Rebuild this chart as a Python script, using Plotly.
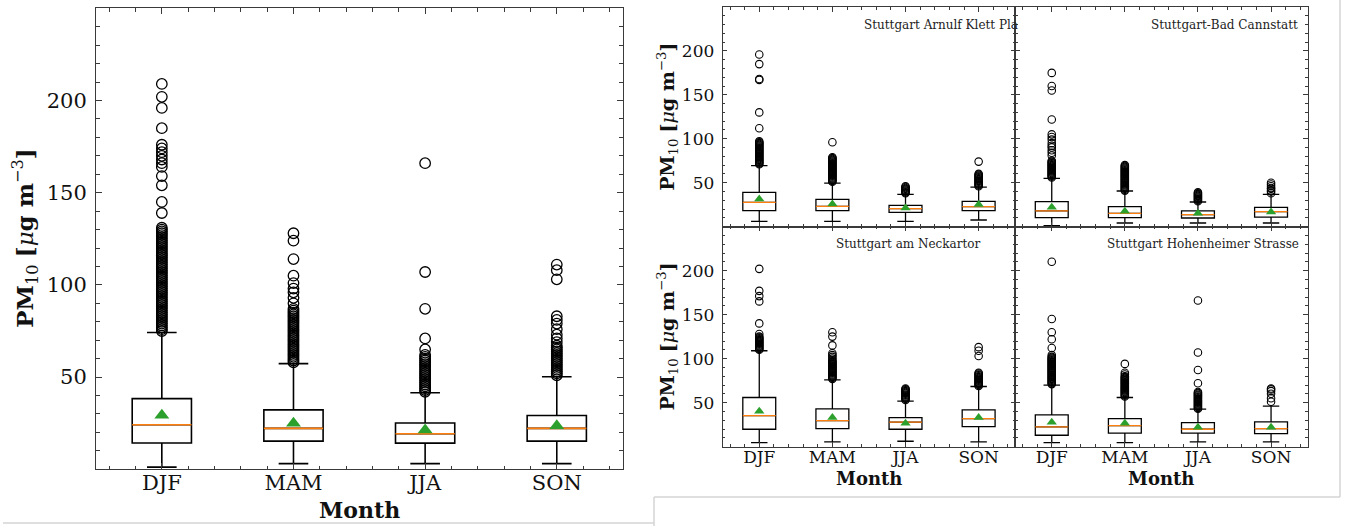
import plotly.graph_objects as go

W, H = 1345, 526
CATS = ["DJF", "MAM", "JJA", "SON"]
POS = [1, 2, 3, 4]

# ---------------- Left: all stations ----------------
all_q1 = [14.3, 15.3, 14.2, 15.3]
all_med = [24.2, 22.2, 19.3, 22.2]
all_q3 = [38.3, 32.2, 25.1, 29.2]
all_lo = [1.2, 3.1, 3.1, 3.1]
all_hi = [74.2, 57.3, 41.5, 50.2]
all_mean = [29.3, 25.0, 21.3, 23.6]
all_out = [
    [75, 76, 77, 78, 79, 80, 81, 82, 83, 84, 85, 86, 87, 88, 89, 90, 91, 92, 93, 94, 95, 96,
     97, 98, 99, 100, 101, 102, 103, 104, 105, 106, 107, 108, 109, 110, 111, 112, 113, 114,
     115, 116, 117, 118, 119, 120, 121, 122, 123, 124, 125, 126, 127, 128, 129, 130, 131,
     139, 145, 154, 159, 164, 166, 168, 170, 172, 174, 176, 185, 196, 202, 209],
    [58, 59, 60, 61, 62, 63, 64, 65, 66, 67, 68, 69, 70, 71, 72, 73, 74, 75, 76, 77, 78, 79,
     80, 81, 82, 83, 84, 85, 86, 87, 90, 93, 96, 98, 101, 105, 114, 124, 128],
    [42, 43, 44, 45, 46, 47, 48, 49, 50, 51, 52, 53, 54, 55, 56, 57, 58, 59, 60, 61, 62,
     65, 71, 87, 107, 166],
    [51, 52, 53, 54, 55, 56, 57, 58, 59, 60, 61, 62, 63, 64, 65, 66, 67, 69, 71, 73, 76,
     79, 81, 83, 103, 108, 111],
]

# ---------------- Stuttgart Arnulf Klett Platz ----------------
akp_q1 = [18.1, 18.1, 16.2, 18.1]
akp_med = [27.6, 23.0, 20.4, 22.7]
akp_q3 = [39.0, 31.0, 24.2, 28.8]
akp_lo = [6.0, 6.0, 6.0, 7.5]
akp_hi = [69.4, 49.6, 36.7, 45.0]
akp_mean = [31.4, 25.7, 21.1, 25.3]
akp_out = [
    [71, 72, 73, 74, 75, 76, 77, 78, 79, 80, 81, 82, 83, 84, 85, 86, 87, 88, 89, 90, 91, 92,
     93, 94, 95, 96, 97, 112, 130, 167, 168, 185, 196],
    [51, 52, 53, 54, 55, 56, 57, 58, 59, 60, 61, 62, 63, 64, 65, 66, 67, 68, 69, 70, 71, 72,
     73, 74, 75, 76, 77, 78, 79, 96],
    [38, 39, 40, 41, 42, 43, 44, 45, 46],
    [46, 47, 48, 49, 50, 51, 52, 53, 54, 55, 56, 57, 58, 59, 60, 74],
]

# ---------------- Stuttgart-Bad Cannstatt ----------------
bc_q1 = [10.2, 10.2, 9.8, 10.9]
bc_med = [17.8, 15.1, 13.6, 17.0]
bc_q3 = [28.4, 22.7, 17.8, 21.9]
bc_lo = [1.1, 4.1, 4.1, 4.1]
bc_hi = [55.0, 40.5, 28.0, 36.7]
bc_mean = [21.9, 17.4, 15.1, 16.6]
bc_out = [
    [56, 57, 58, 59, 60, 61, 62, 63, 64, 65, 66, 67, 68, 69, 70, 71, 72, 73, 74, 75, 81, 84,
     87, 90, 92, 95, 99, 102, 105, 122, 155, 160, 175],
    [41, 42, 43, 44, 45, 46, 47, 48, 49, 50, 51, 52, 53, 54, 55, 56, 57, 58, 59, 60, 61, 62,
     63, 64, 65, 66, 67, 68, 69, 70],
    [29, 30, 31, 32, 33, 34, 35, 36, 37, 38, 39],
    [38, 40, 41, 43, 44, 46, 48, 50],
]

# ---------------- Stuttgart am Neckartor ----------------
nt_q1 = [19.7, 20.5, 19.7, 22.8]
nt_med = [35.3, 29.6, 27.7, 31.9]
nt_q3 = [55.8, 42.9, 33.0, 41.7]
nt_lo = [4.6, 5.3, 6.1, 5.3]
nt_hi = [108.9, 75.9, 51.6, 68.3]
nt_mean = [40.2, 33.0, 26.6, 33.0]
nt_out = [
    [110, 111, 112, 113, 114, 115, 116, 117, 118, 119, 120, 121, 122, 123, 124, 125, 128,
     140, 165, 171, 177, 202],
    [77, 78, 79, 80, 81, 82, 83, 84, 85, 86, 87, 88, 89, 90, 91, 92, 93, 94, 95, 96, 97, 98,
     100, 102, 104, 106, 115, 125, 130],
    [53, 54, 55, 56, 57, 58, 59, 60, 61, 62, 63, 64, 65, 66],
    [69, 70, 71, 72, 73, 74, 75, 76, 77, 78, 79, 80, 81, 82, 83, 84, 103, 109, 113],
]

# ---------------- Stuttgart Hohenheimer Strasse ----------------
hh_q1 = [12.9, 15.2, 15.2, 14.8]
hh_med = [22.4, 23.9, 19.7, 20.5]
hh_q3 = [36.0, 31.9, 27.3, 28.1]
hh_lo = [4.6, 4.6, 5.3, 5.3]
hh_hi = [69.8, 55.8, 42.5, 45.9]
hh_mean = [27.7, 26.6, 22.0, 22.0]
hh_out = [
    [71, 72, 73, 74, 75, 76, 77, 78, 79, 80, 81, 82, 83, 84, 85, 86, 87, 88, 89, 90, 91, 92,
     93, 94, 95, 96, 97, 98, 99, 100, 101, 102, 104, 112, 122, 130, 145, 210],
    [57, 58, 59, 60, 61, 62, 63, 64, 65, 66, 67, 68, 69, 70, 71, 72, 73, 74, 75, 76, 77, 78,
     79, 80, 82, 84, 94],
    [43, 44, 45, 46, 47, 48, 49, 50, 51, 52, 53, 54, 55, 56, 57, 58, 59, 60, 61, 62, 72, 87,
     107, 166],
    [51, 55, 60, 63, 65, 66],
]

station_names = ["Stuttgart Arnulf Klett Pla", "Stuttgart-Bad Cannstatt",
                 "Stuttgart am Neckartor", "Stuttgart Hohenheimer Strasse"]

FONT = "DejaVu Serif"
ORANGE = "#ff7f0e"
GREEN = "#2ca02c"
SPINE = "#3a3a3a"

fig = go.Figure()


def px_x(v):
    return v / W


def px_y(v):
    return 1 - v / H


def add_panel(n, q1, med, q3, lo, hi, mean, outs, lw, msize, mlw, tsize):
    xa = "x" if n == 1 else "x%d" % n
    ya = "y" if n == 1 else "y%d" % n
    fig.add_trace(go.Box(x=POS, q1=q1, median=med, q3=q3, lowerfence=lo, upperfence=hi,
                         width=0.45, whiskerwidth=0.5, fillcolor="white",
                         line=dict(color="black", width=lw), boxpoints=False,
                         xaxis=xa, yaxis=ya, hoverinfo="skip"))
    fig.add_trace(go.Box(x=POS, q1=med, median=med, q3=med, lowerfence=med, upperfence=med,
                         width=0.45, whiskerwidth=0, fillcolor="rgba(0,0,0,0)",
                         line=dict(color=ORANGE, width=lw), boxpoints=False,
                         xaxis=xa, yaxis=ya, hoverinfo="skip"))
    ox, oy = [], []
    for p, vals in zip(POS, outs):
        ox += [p] * len(vals)
        oy += vals
    fig.add_trace(go.Scatter(x=ox, y=oy, mode="markers", xaxis=xa, yaxis=ya,
                             marker=dict(symbol="circle-open", size=msize, color="black",
                                         line=dict(width=mlw, color="black")),
                             hoverinfo="skip"))
    fig.add_trace(go.Scatter(x=POS, y=mean, mode="markers", xaxis=xa, yaxis=ya,
                             marker=dict(symbol="triangle-up", size=tsize, color=GREEN),
                             hoverinfo="skip"))


add_panel(1, all_q1, all_med, all_q3, all_lo, all_hi, all_mean, all_out, 1.6, 10.5, 1.3, 13)
add_panel(2, akp_q1, akp_med, akp_q3, akp_lo, akp_hi, akp_mean, akp_out, 1.3, 7.5, 1.1, 9)
add_panel(3, bc_q1, bc_med, bc_q3, bc_lo, bc_hi, bc_mean, bc_out, 1.3, 7.5, 1.1, 9)
add_panel(4, nt_q1, nt_med, nt_q3, nt_lo, nt_hi, nt_mean, nt_out, 1.3, 7.5, 1.1, 9)
add_panel(5, hh_q1, hh_med, hh_q3, hh_lo, hh_hi, hh_mean, hh_out, 1.3, 7.5, 1.1, 9)


def xax(domain, anchor, show_labels, fsize, tl, mtl, standoff):
    return dict(domain=domain, anchor=anchor, range=[0.5, 4.5], tickmode="array",
                tickvals=POS, ticktext=CATS, showticklabels=show_labels,
                ticks="inside", ticklen=tl, tickwidth=1, tickcolor=SPINE,
                showline=True, linecolor=SPINE, linewidth=1, mirror="allticks",
                showgrid=False, zeroline=False, ticklabelstandoff=standoff,
                tickfont=dict(family=FONT, size=fsize, color="#111"),
                minor=dict(tickmode="linear", tick0=0, dtick=0.2, ticks="inside",
                           ticklen=mtl, tickcolor=SPINE, showgrid=False))


def yax(domain, anchor, show_labels, fsize, tl, mtl):
    return dict(domain=domain, anchor=anchor, range=[0, 250], tickmode="array",
                tickvals=[50, 100, 150, 200], showticklabels=show_labels,
                ticks="inside", ticklen=tl, tickwidth=1, tickcolor=SPINE,
                showline=True, linecolor=SPINE, linewidth=1, mirror="allticks",
                showgrid=False, zeroline=False, ticklabelstandoff=4,
                tickfont=dict(family=FONT, size=fsize, color="#111"),
                minor=dict(tickmode="linear", tick0=0, dtick=10, ticks="inside",
                           ticklen=mtl, tickcolor=SPINE, showgrid=False))


L0, L1 = px_x(96), px_x(622.6)
LB, LT = px_y(469.3), px_y(8.3)
C0, C1, C2 = px_x(722.7), px_x(1015.2), px_x(1307.6)
R0, R1, R2 = px_y(446.6), px_y(226.6), px_y(7)

fig.update_layout(
    width=W, height=H, margin=dict(l=0, r=0, t=0, b=0),
    paper_bgcolor="white", plot_bgcolor="white", showlegend=False, boxmode="overlay",
    font=dict(family=FONT, color="#111"),
    xaxis=xax([L0, L1], "y", True, 21, 6, 3.5, -6),
    yaxis=yax([LB, LT], "x", True, 21, 6, 3.5),
    xaxis2=xax([C0, C1], "y2", False, 17, 4.5, 2.5, -5),
    yaxis2=yax([R1, R2], "x2", True, 17, 4.5, 2.5),
    xaxis3=xax([C1, C2], "y3", False, 17, 4.5, 2.5, -5),
    yaxis3=yax([R1, R2], "x3", False, 17, 4.5, 2.5),
    xaxis4=xax([C0, C1], "y4", True, 17, 4.5, 2.5, -5),
    yaxis4=yax([R0, R1], "x4", True, 17, 4.5, 2.5),
    xaxis5=xax([C1, C2], "y5", True, 17, 4.5, 2.5, -5),
    yaxis5=yax([R0, R1], "x5", False, 17, 4.5, 2.5),
)

ylab = "<b>PM</b><sub>10</sub> <b>[</b><i>μ</i><b>g m</b><sup>−3</sup><b>]</b>"
ann = []
ann.append(dict(x=px_x(25), y=px_y(238.8), xref="paper", yref="paper", text=ylab,
                textangle=-90, showarrow=False, xanchor="center", yanchor="middle",
                font=dict(family=FONT, size=23, color="#111")))
ann.append(dict(x=px_x(359.3), y=px_y(510), xref="paper", yref="paper", text="<b>Month</b>",
                showarrow=False, xanchor="center", yanchor="middle",
                font=dict(family=FONT, size=22, color="#111")))
for yc in [116.8, 336.6]:
    ann.append(dict(x=px_x(668), y=px_y(yc), xref="paper", yref="paper", text=ylab,
                    textangle=-90, showarrow=False, xanchor="center", yanchor="middle",
                    font=dict(family=FONT, size=19, color="#111")))
for xc in [869, 1161.4]:
    ann.append(dict(x=px_x(xc), y=px_y(478), xref="paper", yref="paper", text="<b>Month</b>",
                    showarrow=False, xanchor="center", yanchor="middle",
                    font=dict(family=FONT, size=18, color="#111")))

# station labels
ann.append(dict(x=px_x(862), y=px_y(25), xref="paper", yref="paper", text=station_names[0],
                showarrow=False, xanchor="left", yanchor="middle",
                font=dict(family=FONT, size=12, color="#222")))
ann.append(dict(x=px_x(1300), y=px_y(25), xref="paper", yref="paper", text=station_names[1],
                showarrow=False, xanchor="right", yanchor="middle",
                font=dict(family=FONT, size=12, color="#222")))
ann.append(dict(x=px_x(983), y=px_y(244.3), xref="paper", yref="paper", text=station_names[2],
                showarrow=False, xanchor="right", yanchor="middle",
                font=dict(family=FONT, size=12, color="#222")))
ann.append(dict(x=px_x(1301), y=px_y(244.3), xref="paper", yref="paper", text=station_names[3],
                showarrow=False, xanchor="right", yanchor="middle",
                font=dict(family=FONT, size=12, color="#222")))
fig.update_layout(annotations=ann)

# light page borders around the two images
BORDER = dict(color="#d4d4d4", width=1.5)
shapes = [
    dict(type="line", xref="paper", yref="paper", x0=px_x(3), x1=px_x(654), y0=px_y(523), y1=px_y(523), line=BORDER),
    dict(type="line", xref="paper", yref="paper", x0=px_x(654), x1=px_x(654), y0=px_y(497), y1=px_y(526), line=BORDER),
    dict(type="line", xref="paper", yref="paper", x0=px_x(654), x1=px_x(1340), y0=px_y(497), y1=px_y(497), line=BORDER),
    dict(type="line", xref="paper", yref="paper", x0=px_x(1340), x1=px_x(1340), y0=px_y(0), y1=px_y(497), line=BORDER),
]
fig.update_layout(shapes=shapes)

fig.write_html("out.html")
